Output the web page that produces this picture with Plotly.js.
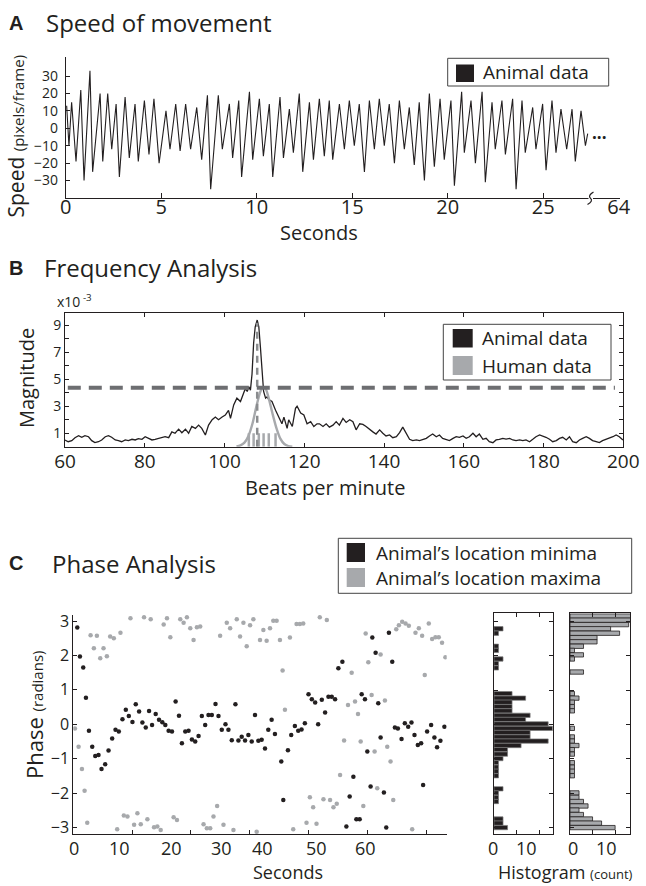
<!DOCTYPE html>
<html><head><meta charset="utf-8">
<script src="https://cdn.plot.ly/plotly-3.0.1.min.js"></script>
<style>html,body{margin:0;padding:0;background:#fff}#chart{width:646px;height:886px}</style>
</head><body><div id="chart"></div>
<script>
// ---------- Panel A: speed of movement ----------
const speedTime = [0.05,0.17,0.31,0.54,0.79,0.96,1.27,1.41,1.80,1.94,2.20,2.41,2.64,2.81,3.11,3.33,3.63,3.80,4.12,4.36,4.62,4.89,5.25,5.46,5.76,5.99,6.28,6.54,6.86,7.12,7.42,7.59,7.99,8.20,8.57,8.74,9.06,9.21,9.62,9.79,10.14,10.35,10.66,10.84,11.22,11.40,11.71,11.92,12.23,12.41,12.76,12.97,
  13.28,13.54,13.80,13.98,14.33,14.59,14.85,15.11,15.37,15.64,15.90,16.16,16.42,16.68,16.94,17.21,17.47,17.73,17.99,18.25,18.51,18.78,19.04,19.30,19.60,19.82,20.17,20.35,20.73,20.87,21.22,21.45,21.80,21.97,22.32,22.49,22.84,23.02,23.40,23.58,23.89,24.06,24.45,24.62,24.97,25.15,25.46,25.67,25.93,26.23,26.51,26.68,26.98,27.21,27.33];
const speedValue = [13,-10,15,-19,22,-30,33,-25,20,-19,20,-12,14,-28,18,-17,14,-19,16,-15,17,-20,10,-12,14,-13,14,-12,12,-18,19,-35,19,-12,14,-17,16,-28,21,-18,17,-16,14,-28,18,-17,11,-14,20,-25,15,-18,
  17,-16,16,-18,14,-12,16,-10,14,-25,16,-12,17,-10,14,-20,16,-12,12,-21,15,-30,20,-22,17,-18,16,-33,21,-14,16,-20,21,-31,15,-12,16,-15,17,-35,16,-14,12,-12,14,-24,16,-14,11,-12,11,-19,10,-10,-3];
const speedTickVals = [0,5,10,15,20,25,28.95];
const speedTickText = ['0','5','10','15','20','25','64'];

// ---------- Panel B: frequency analysis ----------
const animalBpm = [60,60.8,61.7,62.5,63.4,64.2,65.0,65.9,66.7,67.5,68.4,69.2,70.1,70.9,71.7,72.6,73.4,74.2,75.1,75.9,76.8,77.6,78.4,79.3,80.1,80.9,81.8,82.6,83.5,84.3,85.1,86.0,86.8,87.6,88.5,89.3,90.2,91.0,91.8,92.7,93.5,94.3,95.2,96.0,96.9,97.7,98.5,99.4,100.2,101.0,101.5,102.3,103.1,104.0,104.8,105.2,105.7,106.1,106.5,106.9,107.3,107.7,108.2,108.6,109.0,109.4,109.8,110.3,110.7,111.1,111.9,112.8,113.6,114.4,114.9,115.7,116.1,117.0,117.8,118.2,119.1,119.9,120.7,121.6,122.4,123.2,
  123.8,124.7,125.5,126.3,127.2,128.0,128.8,129.7,130.5,131.4,132.2,133.0,133.9,134.7,135.5,136.4,137.2,138.0,138.9,139.7,140.5,141.4,142.2,143.1,143.9,144.7,145.6,146.4,147.2,148.1,148.9,149.7,150.6,151.4,152.2,153.1,153.9,154.7,155.6,156.4,157.3,158.1,158.9,159.8,160.6,161.4,162.3,163.1,163.9,164.8,165.6,166.4,167.3,168.1,168.9,169.8,170.6,171.5,172.3,173.1,174.0,174.8,175.6,176.5,177.3,178.1,179.0,179.8,180.6,181.5,182.3,183.2,184.0,184.8,185.7,186.5,187.3,188.2,189.0,189.8,190.7,191.5,192.3,193.2,194.0,194.8,195.7,196.5,197.4,198.2,199.0,199.9];
const animalMag = [0.5,0.37,0.45,0.67,0.82,0.7,0.82,0.74,0.45,0.3,0.37,0.5,0.74,0.82,0.7,0.5,0.45,0.37,0.5,0.45,0.55,0.5,0.6,0.55,0.74,0.64,0.5,0.55,0.62,0.7,0.74,0.67,1.1,1.0,1.3,1.04,1.3,1.0,1.5,1.36,1.6,1.36,0.87,1.6,2.0,2.2,2.0,2.2,2.35,2.7,2.1,3.1,3.6,3.35,4.0,4.3,4.1,4.45,4.2,5.4,7.7,8.9,9.4,8.9,7.4,5.4,4.1,3.6,3.7,3.5,3.35,2.7,2.2,1.7,2.2,1.36,2.0,1.5,2.85,3.0,2.5,2.35,1.7,1.86,1.5,1.7,
  1.7,1.5,1.7,1.45,1.6,1.86,1.6,2.1,1.8,2.0,1.86,1.25,1.7,1.65,1.5,1.25,1.1,0.94,1.25,1.0,0.8,0.87,0.67,0.74,1.04,1.45,1.0,0.55,0.45,0.5,0.45,0.55,0.62,0.8,0.94,0.74,0.87,0.62,0.55,0.45,0.62,0.74,0.7,0.8,0.62,0.74,1.0,0.74,0.94,0.55,0.62,0.37,0.3,0.5,0.55,0.62,0.57,0.62,0.5,0.45,0.5,0.45,0.5,0.37,0.55,0.74,0.87,0.8,0.7,0.55,0.37,0.45,0.62,0.7,0.5,0.74,0.37,0.3,0.5,0.62,0.74,0.62,0.45,0.37,0.3,0.45,0.55,0.62,0.74,0.87,0.74,0.5];
const humanBpm = [103,104,105,106,107,108,109,109.6,110.3,111,112,113,114,115,116,117];
const humanMag = [0.02,0.1,0.3,0.8,1.7,3.0,4.1,4.4,4.3,3.7,2.5,1.4,0.6,0.2,0.05,0];
const humanTempos = [106.1,107.3,108.6,109.8,111.1,112.8];
const rugTop = 1.0;
const threshold = 4.38;
const magTickVals = [1,3,5,7,9];

// ---------- Panel C: phase analysis ----------
const minTime = [0.68,1.13,1.69,2.15,2.66,3.22,3.73,4.29,4.8,5.42,5.99,6.61,7.18,7.74,8.36,8.93,9.44,10.06,10.62,11.19,11.75,12.32,12.88,13.39,14.01,14.58,15.14,15.65,16.21,16.78,17.4,17.97,18.47,19.04,19.6,20.17,20.73,21.3,21.86,22.43,22.99,23.56,24.18,24.69,25.25,25.88,26.38,26.95,27.57,28.08,28.64,29.21,29.77,30.34,30.9,31.47,32.03,32.6,33.16,33.73,34.29,35.37,35.71,36.5,37.06,37.68,38.25,38.81,39.38,40.0,40.56,41.13,41.64,42.26,42.82,43.39,43.95,44.52,45.08,45.76,46.44,47.0,47.63,48.14,48.7,49.04,49.6,50.0,50.56,50.85,51.41,51.86,52.26,52.82,53.22,53.67,54.24,54.69,55.2,55.82,56.38,56.95,57.51,58.02,58.59,59.15,59.49,60.17,60.85,61.41,61.86,62.43,63.11];
const minPhase = [2.81,1.97,1.65,0.77,-0.19,-0.65,-0.92,-0.89,-1.3,-1.16,-0.76,-0.41,-0.16,-0.21,0.15,0.42,0.24,0.07,0.58,0.37,0.05,-0.09,0.39,-0.02,0.3,0.13,0.06,-0.02,-0.19,-0.21,0.66,0.25,-0.55,-0.21,-0.19,-0.44,-0.5,-0.34,0.24,-0.02,0.27,0.27,0.59,0.24,-0.16,0,-0.16,-0.46,0.58,-0.47,-0.36,-0.47,-0.31,-0.5,0.27,-0.48,-0.45,-0.7,-0.16,0.13,-0.28,-1.08,-2.2,-0.75,-0.31,-0.05,-0.19,-0.15,0.03,0.87,0.73,0.63,0,0.71,0.34,0.8,0.8,0.73,1.63,1.82,-2.97,-2.1,-1.52,-2.76,-2.76,0.87,0.73,-0.79,-1.81,2.52,2.08,0.61,-0.38,-1.98,-3.0,2.66,1.82,-0.09,-0.12,-0.43,0.03,-0.07,0.05,-0.31,-0.6,-0.55,-1.76,-0.21,-0.02,-0.38,-0.67,-0.48,-0.07];
const maxTime = [0.28,0.9,1.47,1.92,2.37,2.94,3.5,4.01,4.58,5.14,5.71,6.27,6.89,7.46,8.02,8.59,9.21,9.72,10.34,10.9,11.47,12.03,12.6,13.16,13.73,14.29,14.86,15.37,15.93,16.5,17.06,17.63,18.19,18.76,19.32,19.89,20.45,21.02,21.58,22.15,22.71,23.28,23.84,24.46,24.97,25.54,26.1,26.67,27.23,27.8,28.36,28.93,29.49,30.06,30.62,31.19,31.75,32.32,32.88,33.45,34.01,34.58,35.14,35.59,35.99,36.84,37.4,37.97,38.53,39.1,39.66,40.23,40.79,41.36,41.92,42.54,43.11,43.67,44.24,44.8,45.37,46.05,46.72,47.34,47.91,48.42,48.87,49.32,49.72,50.17,50.73,51.24,51.69,52.26,52.99,53.39,53.95,54.41,54.92,55.37,55.93,56.5,57.06,57.63,58.19,58.76,59.32,59.77,60.45,61.02,61.58,62.15,62.71,63.28];
const maxPhase = [-0.12,-0.65,-1.3,-1.93,-2.86,2.59,2.21,2.57,1.92,2.21,1.98,2.55,2.5,-3.05,2.66,-2.65,-2.68,3.08,-2.92,-2.58,-2.9,3.11,-2.76,3.05,-2.99,-2.97,-3.07,2.9,3.08,2.53,-2.7,-2.78,3.05,2.95,3.11,2.79,2.45,2.82,2.84,-2.9,-3.02,-3.02,-2.68,-2.37,2.57,-2.92,2.95,2.79,-3.07,3.05,2.55,2.95,2.27,2.88,3.05,-3.12,2.45,2.74,2.43,2.79,3.01,3.01,2.45,1.56,0.42,2.52,-3.05,2.91,2.91,2.93,-2.86,-2.12,-2.41,-2.89,3.11,-2.18,3.03,-2.2,-2.41,-2.31,-1.47,-0.47,0.56,1.5,0.66,0.3,-0.5,-2.37,2.64,1.8,0.85,-0.79,-1.86,2.03,0.69,-0.65,-1.08,-2.2,2.76,2.88,2.98,2.93,2.86,-3.05,2.66,2.79,2.57,1.43,2.93,2.48,2.53,2.53,2.37,1.95];
const phaseTickVals = [-3,-2,-1,0,1,2,3];
const secTickVals = [0,10,20,30,40,50,60];
const secTickText = ['0','10','20','30','40','50','60'];
const secTickLabelPx = [73.5,119,171,221,262,316,365];
// histograms (bin centres in radians, counts)
const binWidth = 0.1257;
const minBinPhase = [2.79,2.66,2.28,2.16,1.91,1.78,1.65,0.90,0.77,0.65,0.52,0.40,0.27,0.15,0.02,-0.11,-0.23,-0.36,-0.48,-0.61,-0.73,-0.86,-0.99,-1.11,-1.24,-1.36,-1.49,-1.87,-1.99,-2.12,-2.24,-2.75,-2.87,-3.00];
const minCounts = [2,1,1,1,2,1,1,4,7,4,4,4,8,7,12,13,8,8,12,6,3,3,2,1,1,1,1,2,1,1,1,2,2,3];
const maxBinPhase = [3.16,3.04,2.91,2.79,2.66,2.53,2.41,2.28,2.16,2.03,1.91,1.53,0.90,0.77,0.65,0.52,0.40,-0.11,-0.36,-0.48,-0.61,-0.73,-0.86,-1.11,-1.24,-1.36,-1.49,-1.99,-2.12,-2.24,-2.37,-2.49,-2.62,-2.75,-2.87,-3.00];
const maxCounts = [14,14,13,9,11,6,6,3,1,3,1,3,1,2,1,1,1,1,1,1,2,1,1,1,1,1,1,2,2,3,4,2,3,5,7,10];
const histTickText = ['0','10'];

// ---------- layout helpers ----------
const W = 646, H = 886;
const X = p => p / W, Y = p => 1 - p / H;
const FONT = 'Open Sans, sans-serif';
const INK = '#231f20';

const traces = [];
traces.push({type:'scatter', mode:'lines', x:speedTime, y:speedValue, xaxis:'x', yaxis:'y',
  line:{color:INK, width:1.1}, hoverinfo:'skip'});

const rugX = [], rugY = [];
humanTempos.forEach(t => { rugX.push(t, t, null); rugY.push(0, rugTop, null); });
let pk = 0; animalMag.forEach((m,i)=>{ if (m > animalMag[pk]) pk = i; });
traces.push({type:'scatter', mode:'lines', x:rugX, y:rugY, xaxis:'x2', yaxis:'y2',
  line:{color:'#a7a9ac', width:2.5}, hoverinfo:'skip'});
traces.push({type:'scatter', mode:'lines', x:animalBpm, y:animalMag, xaxis:'x2', yaxis:'y2',
  line:{color:INK, width:1.3}, hoverinfo:'skip'});
traces.push({type:'scatter', mode:'lines', x:humanBpm, y:humanMag, xaxis:'x2', yaxis:'y2',
  line:{color:'#a7a9ac', width:2.4, shape:'spline', smoothing:0.8}, hoverinfo:'skip'});
traces.push({type:'scatter', mode:'lines', x:[animalBpm[pk], animalBpm[pk]], y:[0, animalMag[pk] - 0.2], xaxis:'x2', yaxis:'y2',
  line:{color:'#8a8c8e', width:2.5, dash:'7px,5px'}, hoverinfo:'skip'});

traces.push({type:'scatter', mode:'markers', x:maxTime, y:maxPhase, xaxis:'x3', yaxis:'y3',
  marker:{color:'#a7a9ac', size:4.5}, hoverinfo:'skip'});
traces.push({type:'scatter', mode:'markers', x:minTime, y:minPhase, xaxis:'x3', yaxis:'y3',
  marker:{color:INK, size:4.5}, hoverinfo:'skip'});

traces.push({type:'bar', orientation:'h', x:minCounts, y:minBinPhase, width:binWidth, xaxis:'x4', yaxis:'y4',
  marker:{color:'#231f20', line:{color:'#7d7d7d', width:0.7}}, hoverinfo:'skip'});
traces.push({type:'bar', orientation:'h', x:maxCounts, y:maxBinPhase, width:binWidth, xaxis:'x5', yaxis:'y5',
  marker:{color:'#a7a9ac', line:{color:'#231f20', width:0.8}}, hoverinfo:'skip'});

const axBase = {showgrid:false, zeroline:false, showline:true, linecolor:INK, linewidth:1,
  ticks:'inside', ticklen:4, tickcolor:INK, tickwidth:1, fixedrange:true, tickfont:{family:FONT, size:14, color:INK}};

const layout = {
  width:W, height:H, margin:{l:0,r:0,t:0,b:0}, paper_bgcolor:'#fff', plot_bgcolor:'rgba(0,0,0,0)',
  showlegend:false, font:{family:FONT, color:INK},
  xaxis: Object.assign({}, axBase, {domain:[X(65.7),X(619.6)], range:[0,29], anchor:'y',
    tickvals:speedTickVals, ticktext:speedTickText, ticklen:5, ticklabelstandoff:-9, tickfont:{family:FONT,size:20,color:INK}}),
  yaxis: Object.assign({}, axBase, {domain:[Y(198.3),Y(57.3)], range:[-40.2,40.8], anchor:'x',
    tickvals:[-30,-20,-10,0,10,20,30], ticklabelstandoff:4, tickfont:{family:FONT,size:14,color:INK}}),
  xaxis2: Object.assign({}, axBase, {domain:[X(65),X(623.3)], range:[60,200], anchor:'y2', mirror:'ticks',
    tickvals:[60,80,100,120,140,160,180,200], tickfont:{family:FONT,size:19,color:INK}, ticklabelstandoff:-3}),
  yaxis2: Object.assign({}, axBase, {domain:[Y(446.7),Y(313.3)], range:[0,9.9], anchor:'x2', mirror:'ticks',
    tickvals:magTickVals, tickfont:{family:FONT,size:14,color:INK},
    minor:{dtick:1, tick0:0, ticks:'inside', ticklen:4, tickcolor:INK, showgrid:false}}),
  xaxis3: Object.assign({}, axBase, {domain:[X(73.3),X(446.7)], range:[0,63.5], anchor:'y3',
    tickvals:secTickVals, showticklabels:false}),
  yaxis3: Object.assign({}, axBase, {domain:[Y(834.3),Y(615)], range:[-3.195,3.175], anchor:'x3',
    tickvals:phaseTickVals, tickfont:{family:FONT,size:16,color:INK}}),
  xaxis4: Object.assign({}, axBase, {domain:[X(494),X(552.7)], range:[0,13], anchor:'y4', mirror:'ticks',
    tickvals:[5,10], showticklabels:false}),
  yaxis4: Object.assign({}, axBase, {domain:[Y(834.3),Y(613.3)], range:[-3.195,3.24], anchor:'x4', mirror:'ticks',
    tickvals:phaseTickVals, showticklabels:false}),
  xaxis5: Object.assign({}, axBase, {domain:[X(570),X(630)], range:[0,13.3], anchor:'y5', mirror:'ticks',
    tickvals:[5,10], showticklabels:false}),
  yaxis5: Object.assign({}, axBase, {domain:[Y(834.3),Y(613.3)], range:[-3.195,3.24], anchor:'x5', mirror:'ticks',
    tickvals:phaseTickVals, showticklabels:false}),
  shapes: [], annotations: []
};

const P = (px, py) => X(px).toFixed(5) + ',' + Y(py).toFixed(5);
const rectPx = (x0,y0,x1,y1,fill,line) => ({type:'rect', xref:'paper', yref:'paper', x0:X(x0), x1:X(x1), y0:Y(y1), y1:Y(y0),
  fillcolor:fill, line:{color:line||fill, width: line?1:0}, layer:'above'});
layout.shapes.push({type:'line', xref:'x2 domain', yref:'y2', x0:0.005, x1:0.985, y0:threshold, y1:threshold,
  line:{color:'#6d6e71', width:4, dash:'13px,8px'}, layer:'above'});
layout.shapes.push({type:'rect', xref:'paper', yref:'paper', x0:X(588.5), x1:X(593), y0:Y(199.5), y1:Y(197), fillcolor:'#fff', line:{width:0}, layer:'above'});
layout.shapes.push({type:'path', xref:'paper', yref:'paper', path:'M'+P(587.5,204.5)+' Q'+P(593.5,201)+' '+P(590.5,198.3)+' T'+P(593.5,192), line:{color:INK, width:1.2}, layer:'above'});
layout.shapes.push(rectPx(447.7,58.3,608.7,86,'#fff','#444'));
layout.shapes.push(rectPx(456,64.5,474,82,INK));
layout.shapes.push(rectPx(443.3,324.3,611,380,'#fff','#444'));
layout.shapes.push(rectPx(452.7,329,472.7,347.5,INK));
layout.shapes.push(rectPx(452.7,356,472.7,375,'#a7a9ac'));
layout.shapes.push(rectPx(338.3,538.3,631.7,593.3,'#fff','#444'));
layout.shapes.push(rectPx(346.7,543,365,562,INK));
layout.shapes.push(rectPx(346.7,568,365,587,'#a7a9ac'));

const ann = (text, px, py, size, opts) => layout.annotations.push(Object.assign({
  text, xref:'paper', yref:'paper', x:X(px), y:Y(py), xanchor:'left', yanchor:'middle', showarrow:false,
  font:{family:FONT, size, color:INK}}, opts||{}));
const BOLD = {family:'Liberation Sans, Arial, sans-serif', size:20, color:INK};

ann('<b>A</b>', 7, 23, 20, {font:BOLD});
ann('Speed of movement', 44, 23, 24);
ann('<b>B</b>', 7, 268, 20, {font:BOLD});
ann('Frequency Analysis', 42, 268, 24);
ann('<b>C</b>', 7, 563, 20, {font:BOLD});
ann('Phase Analysis', 50, 563, 24);

ann("Speed <span style='font-size:15px'>(pixels/frame)</span>", 15.5, 136, 21, {xanchor:'center', textangle:-90});
ann('Seconds', 319, 232, 20, {xanchor:'center'});
ann('<b>...</b>', 599, 132, 17, {xanchor:'center'});
ann('Animal data', 481, 72.5, 19);

ann('Magnitude', 26, 378, 20, {xanchor:'center', textangle:-90});
ann('x10<sup> -3</sup>', 55, 301, 14);
ann('Beats per minute', 325, 487, 20, {xanchor:'center'});
ann('Animal data', 480, 338, 19);
ann('Human data', 480, 366, 19);

ann('Animal\u2019s location minima', 374, 552.5, 19);
ann('Animal\u2019s location maxima', 374, 577.5, 19);
ann("Phase <span style='font-size:15px'>(radians)</span>", 34, 715, 22, {xanchor:'center', textangle:-90});
secTickText.forEach((t,i) => ann(t, secTickLabelPx[i], 848, 18, {xanchor:'center'}));
ann('Seconds', 287.5, 885.5, 18, {xanchor:'center', yanchor:'bottom'});
ann(histTickText[0], 493.3, 848, 18, {xanchor:'center'});
ann(histTickText[1], 526.7, 848, 18, {xanchor:'center'});
ann(histTickText[0], 573.3, 848, 18, {xanchor:'center'});
ann(histTickText[1], 606.7, 848, 18, {xanchor:'center'});
ann("Histogram <span style='font-size:13px'>(count)</span>", 565, 885.5, 18, {xanchor:'center', yanchor:'bottom'});

Plotly.newPlot('chart', traces, layout, {staticPlot:true, displayModeBar:false});
</script></body></html>
